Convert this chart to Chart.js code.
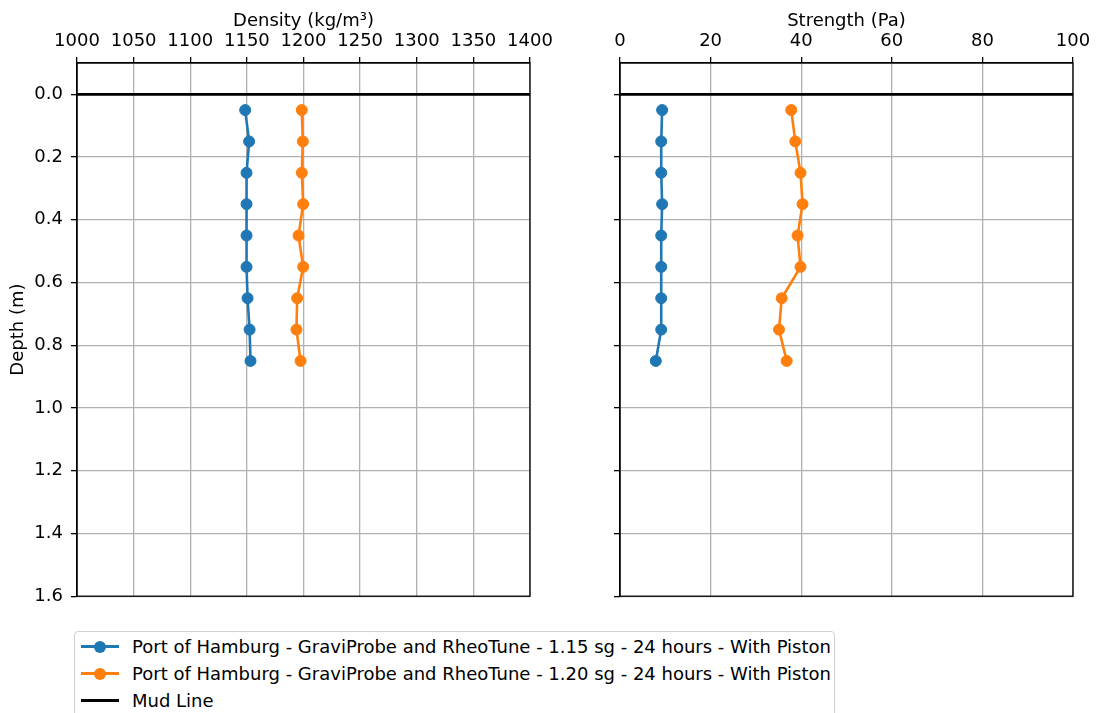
<!DOCTYPE html>
<html>
<head>
<meta charset="utf-8">
<script src="https://cdn.jsdelivr.net/npm/chart.js@4.4.0/dist/chart.umd.min.js"></script>
<style>
  body { margin: 0; background: #fff; width: 1105px; height: 713px; overflow: hidden; position: relative; font-family: 'DejaVu Sans', sans-serif; }
  canvas { position: absolute; top: 0; }
  #density-chart { left: 0; }
  #strength-chart { left: 560px; }
  .legend { position: absolute; left: 74px; top: 631px; width: 761px; height: 110px; border: 1px solid #d0d0d0; border-radius: 4px; background: #fff; padding-top: 1px; box-sizing: border-box; }
  .legend-row { position: relative; height: 27px; font-size: 18px; line-height: 27px; color: #000; white-space: nowrap; }
  .legend-row .icon { position: absolute; left: 6px; top: 0; width: 38px; height: 27px; }
  .legend-row .icon .ln { position: absolute; left: 0; right: 0; top: 12px; height: 2.6px; }
  .legend-row .icon .mk { position: absolute; left: 13px; top: 7.5px; width: 12px; height: 12px; border-radius: 50%; }
  .legend-row .txt { position: absolute; left: 57px; top: 0; }
</style>
</head>
<body>
<canvas id="density-chart" width="560" height="615"></canvas>
<canvas id="strength-chart" width="545" height="615"></canvas>
<div class="legend" id="legend"></div>

<script>
// Data
const depths = [0.05, 0.15, 0.25, 0.35, 0.45, 0.55, 0.65, 0.75, 0.85];
const density115 = [1148.5, 1152, 1149.7, 1149.7, 1149.7, 1149.7, 1150.6, 1152.4, 1153.2];
const density120 = [1198.5, 1199.4, 1198.5, 1199.7, 1195.6, 1199.7, 1194.4, 1193.8, 1197.4];
const strength115 = [9.3, 9.1, 9.1, 9.3, 9.1, 9.1, 9.1, 9.1, 7.9];
const strength120 = [37.8, 38.7, 39.85, 40.3, 39.2, 39.85, 35.7, 35.1, 36.8];
const mudLineDepth = 0;

const depthTicks = [0, 0.2, 0.4, 0.6, 0.8, 1.0, 1.2, 1.4, 1.6];
const depthRange = [-0.1, 1.6];
const densityRange = [1000, 1400];
const strengthRange = [0, 100];

const seriesLabels = [
    'Port of Hamburg - GraviProbe and RheoTune - 1.15 sg - 24 hours - With Piston',
    'Port of Hamburg - GraviProbe and RheoTune - 1.20 sg - 24 hours - With Piston',
    'Mud Line'
];
const seriesColors = ['#1f77b4', '#ff7f0e', '#000000'];

Chart.defaults.font.family = "'DejaVu Sans', sans-serif";
Chart.defaults.font.size = 18;
Chart.defaults.color = '#000';

// Draws the full box around the plot area (matplotlib spines)
const boxPlugin = {
    id: 'box',
    afterDraw(chart) {
        const { ctx, chartArea: a } = chart;
        ctx.save();
        ctx.strokeStyle = '#000';
        ctx.lineWidth = 1.3;
        ctx.strokeRect(a.left, a.top, a.right - a.left, a.bottom - a.top);
        ctx.restore();
    }
};

function pairs(xs, ys) {
    return xs.map((x, i) => ({ x: x, y: ys[i] }));
}

function seriesDataset(label, color, data) {
    return {
        label, data, showLine: true,
        borderColor: color, backgroundColor: color,
        borderWidth: 2.6, pointRadius: 5.5, pointBorderWidth: 1,
        pointHoverRadius: 5.5
    };
}

function makeChart(canvasId, title, xRange, xStep, blueVals, orangeVals, yLeftWidth, padRight, showYLabels) {
    const ctx = document.getElementById(canvasId).getContext('2d');
    return new Chart(ctx, {
        type: 'scatter',
        data: {
            datasets: [
                seriesDataset(seriesLabels[0], seriesColors[0], pairs(blueVals, depths)),
                seriesDataset(seriesLabels[1], seriesColors[1], pairs(orangeVals, depths)),
                {
                    label: seriesLabels[2],
                    data: pairs(xRange, [mudLineDepth, mudLineDepth]),
                    showLine: true, borderColor: seriesColors[2], borderWidth: 2.6,
                    pointRadius: 0, pointHoverRadius: 0
                }
            ]
        },
        options: {
            responsive: false,
            animation: false,
            layout: { padding: { left: 0, top: 0, right: padRight, bottom: 17.5 } },
            plugins: { legend: { display: false }, tooltip: { enabled: false } },
            scales: {
                x: {
                    type: 'linear', position: 'top',
                    min: xRange[0], max: xRange[1],
                    ticks: { stepSize: xStep, padding: 5, maxRotation: 0, callback: v => String(v) },
                    grid: { color: '#b0b0b0', lineWidth: 1.3, tickColor: '#000', tickLength: 6 },
                    border: { display: true, color: '#000', width: 1.3 },
                    title: { display: true, text: title, padding: { top: 11, bottom: 0 } },
                    afterFit(scale) { scale.height = 63; }
                },
                y: {
                    type: 'linear', position: 'left', reverse: true,
                    min: depthRange[0], max: depthRange[1],
                    afterBuildTicks(scale) { scale.ticks = depthTicks.map(v => ({ value: v })); },
                    ticks: {
                        padding: 8,
                        callback: v => showYLabels ? Number(v).toFixed(1) : ''
                    },
                    grid: { color: '#b0b0b0', lineWidth: 1.3, tickColor: '#000', tickLength: 6 },
                    border: { display: true, color: '#000', width: 1.3 },
                    title: { display: showYLabels, text: 'Depth (m)', padding: { top: 8, bottom: 0 } },
                    afterFit(scale) { scale.width = yLeftWidth; }
                }
            }
        },
        plugins: [boxPlugin]
    });
}

makeChart('density-chart', 'Density (kg/m³)', densityRange, 50, density115, density120, 77, 30, true);
makeChart('strength-chart', 'Strength (Pa)', strengthRange, 20, strength115, strength120, 60, 32, false);

// HTML legend below the plots
function buildLegend() {
    const legend = document.getElementById('legend');
    seriesLabels.forEach((label, i) => {
        const row = document.createElement('div');
        row.className = 'legend-row';
        const icon = document.createElement('span');
        icon.className = 'icon';
        const ln = document.createElement('span');
        ln.className = 'ln';
        ln.style.background = seriesColors[i];
        icon.appendChild(ln);
        if (i < 2) {
            const mk = document.createElement('span');
            mk.className = 'mk';
            mk.style.background = seriesColors[i];
            icon.appendChild(mk);
        }
        const txt = document.createElement('span');
        txt.className = 'txt';
        txt.textContent = label;
        row.appendChild(icon);
        row.appendChild(txt);
        legend.appendChild(row);
    });
}
buildLegend();
</script>
</body>
</html>
